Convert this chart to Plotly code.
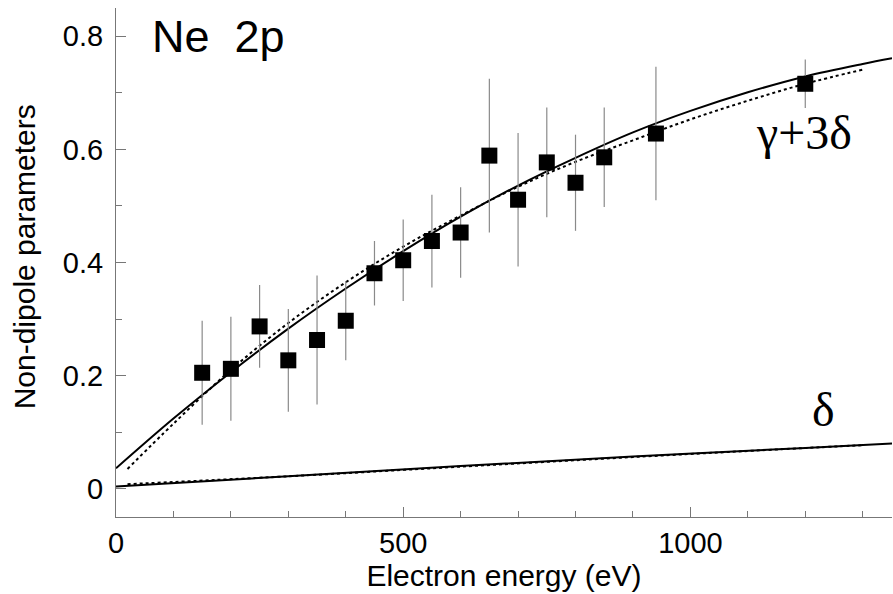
import plotly.graph_objects as go

# measured points (gamma + 3 delta)
energy = [150, 200, 250, 300, 350, 400, 450, 500, 550, 600, 650, 700, 750, 800, 850, 940, 1200]
gd_val = [0.205, 0.212, 0.287, 0.227, 0.263, 0.297, 0.381, 0.404, 0.438, 0.453, 0.589, 0.511, 0.577, 0.541, 0.586, 0.628, 0.716]
gd_err = [0.092, 0.092, 0.073, 0.091, 0.114, 0.070, 0.057, 0.072, 0.082, 0.080, 0.136, 0.118, 0.097, 0.085, 0.088, 0.118, 0.043]

# theory curves
solid_gd_e = [0, 100, 200, 300, 400, 500, 600, 700, 800, 900, 1000, 1100, 1200, 1300, 1351]
solid_gd_v = [0.036, 0.124, 0.206, 0.283, 0.354, 0.420, 0.481, 0.536, 0.585, 0.630, 0.668, 0.701, 0.729, 0.751, 0.761]
dot_gd_e = [20, 100, 200, 300, 400, 500, 600, 700, 800, 900, 1000, 1100, 1200, 1300]
dot_gd_v = [0.035, 0.115, 0.210, 0.293, 0.365, 0.428, 0.483, 0.534, 0.578, 0.616, 0.653, 0.686, 0.716, 0.741]

solid_d_e = [0, 300, 600, 900, 1200, 1351]
solid_d_v = [0.004, 0.022, 0.040, 0.057, 0.072, 0.080]
dot_d_e = [20, 300, 600, 900, 1200, 1300]
dot_d_v = [0.008, 0.022, 0.039, 0.056, 0.072, 0.077]

x_ticks = [0, 500, 1000]
y_ticks = [0, 0.2, 0.4, 0.6, 0.8]
y_tick_text = ["0", "0.2", "0.4", "0.6", "0.8"]

fig = go.Figure()
fig.add_trace(go.Scatter(x=solid_gd_e, y=solid_gd_v, mode="lines", line=dict(color="black", width=2, shape="spline"), showlegend=False))
fig.add_trace(go.Scatter(x=dot_gd_e, y=dot_gd_v, mode="lines", line=dict(color="black", width=2, dash="dot", shape="spline"), showlegend=False))
fig.add_trace(go.Scatter(x=solid_d_e, y=solid_d_v, mode="lines", line=dict(color="black", width=2, shape="spline"), showlegend=False))
fig.add_trace(go.Scatter(x=dot_d_e, y=dot_d_v, mode="lines", line=dict(color="black", width=2, dash="dot", shape="spline"), showlegend=False))
fig.add_trace(go.Scatter(
    x=energy, y=gd_val, mode="markers",
    marker=dict(symbol="square", size=16, color="black", line=dict(width=0)),
    error_y=dict(type="data", array=gd_err, visible=True, color="#8a8a8a", thickness=1.2, width=0),
    showlegend=False))

fig.add_annotation(x=60, y=0.80, xref="x", yref="y", text="Ne  2p", showarrow=False,
                   xanchor="left", yanchor="middle", font=dict(family="Liberation Sans, Arial", size=45, color="black"))
fig.add_annotation(x=1198, y=0.629, xref="x", yref="y", text="γ+3δ", showarrow=False,
                   xanchor="center", yanchor="middle", font=dict(family="Liberation Serif, Times New Roman", size=48, color="black"))
fig.add_annotation(x=1232, y=0.14, xref="x", yref="y", text="δ", showarrow=False,
                   xanchor="center", yanchor="middle", font=dict(family="Liberation Serif, Times New Roman", size=48, color="black"))
fig.add_annotation(x=-0.1186, y=0.512, xref="paper", yref="paper", text="Non-dipole parameters", showarrow=False,
                   textangle=-90, xanchor="center", yanchor="middle",
                   font=dict(family="Liberation Sans, Arial", size=30, color="black"))

axis_color = "#777777"
fig.update_xaxes(range=[0, 1351], tickvals=x_ticks, ticktext=[str(v) for v in x_ticks],
                 ticks="inside", ticklen=10, tickwidth=1, tickcolor=axis_color, automargin=False,
                 showline=True, linecolor=axis_color, linewidth=1.2, showgrid=False, zeroline=False,
                 minor=dict(dtick=100, tick0=0, ticks="inside", ticklen=6, tickcolor=axis_color, showgrid=False),
                 tickfont=dict(family="Liberation Sans, Arial", size=29, color="black"),
                 title=dict(text="Electron energy (eV)", font=dict(family="Liberation Sans, Arial", size=30, color="black"), standoff=0))
fig.update_yaxes(range=[-0.05, 0.85], tickvals=y_ticks, ticktext=y_tick_text,
                 ticks="inside", ticklen=10, tickwidth=1, tickcolor=axis_color, automargin=False,
                 showline=True, linecolor=axis_color, linewidth=1.2, showgrid=False, zeroline=False,
                 minor=dict(dtick=0.1, tick0=0, ticks="inside", ticklen=6, tickcolor=axis_color, showgrid=False),
                 tickfont=dict(family="Liberation Sans, Arial", size=29, color="black"),
                 ticklabelstandoff=6)
fig.update_layout(width=893, height=594, margin=dict(l=116, r=1, t=8, b=77),
                  plot_bgcolor="white", paper_bgcolor="white")
fig.write_html("out.html", config={"displayModeBar": False},
               post_script="document.body.style.margin='0';document.body.style.overflow='hidden';")
